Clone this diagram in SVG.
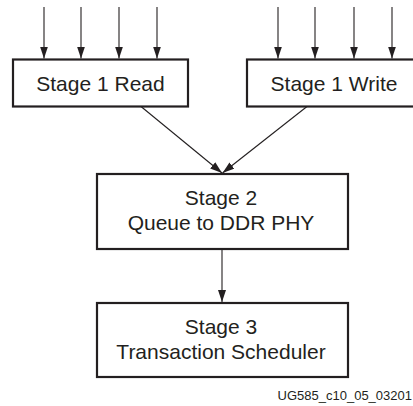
<svg xmlns="http://www.w3.org/2000/svg" width="413" height="406" viewBox="0 0 413 406">
<defs>
<marker id="ah" viewBox="0 0 12 8" refX="12" refY="4" markerWidth="12" markerHeight="8" markerUnits="userSpaceOnUse" orient="auto">
<path d="M0,0 L12,4 L0,8 Z" fill="#231f20"/>
</marker>
<style>
.box{fill:#fff;stroke:#231f20;stroke-width:2.2}
.lbl{font-family:"Liberation Sans",Arial,sans-serif;font-size:21px;fill:#231f20;text-anchor:middle}
.conn line{stroke:#231f20;stroke-width:1.1;marker-end:url(#ah)}
.foot{font-family:"Liberation Sans",Arial,sans-serif;font-size:13px;fill:#231f20;text-anchor:end}
</style>
</defs>
<rect width="413" height="406" fill="#fff"/>
<g id="read">
<rect class="box" x="13" y="59.5" width="175" height="47"/>
<text class="lbl" x="100.5" y="91">Stage 1 Read</text>
</g>
<g id="write">
<rect class="box" x="247" y="59.5" width="175" height="47"/>
<text class="lbl" x="334" y="91">Stage 1 Write</text>
</g>
<g id="stage2">
<rect class="box" x="97" y="174" width="251" height="75"/>
<text class="lbl" x="221" y="205">Stage 2</text>
<text class="lbl" x="221" y="230">Queue to DDR PHY</text>
</g>
<g id="stage3">
<rect class="box" x="97" y="303" width="251" height="74"/>
<text class="lbl" x="221" y="334">Stage 3</text>
<text class="lbl" x="221" y="359">Transaction Scheduler</text>
</g>
<g id="connectors" class="conn">
<line x1="44" y1="7" x2="44" y2="58.5"/>
<line x1="81" y1="7" x2="81" y2="58.5"/>
<line x1="119" y1="7" x2="119" y2="58.5"/>
<line x1="157" y1="7" x2="157" y2="58.5"/>
<line x1="278" y1="7" x2="278" y2="58.5"/>
<line x1="315" y1="7" x2="315" y2="58.5"/>
<line x1="354" y1="7" x2="354" y2="58.5"/>
<line x1="392" y1="7" x2="392" y2="58.5"/>
<line x1="141" y1="106.5" x2="222" y2="173"/>
<line x1="307" y1="106.5" x2="222.5" y2="173"/>
<line x1="222" y1="249" x2="222" y2="302"/>
</g>
<text class="foot" x="412" y="400">UG585_c10_05_03201</text>
</svg>
